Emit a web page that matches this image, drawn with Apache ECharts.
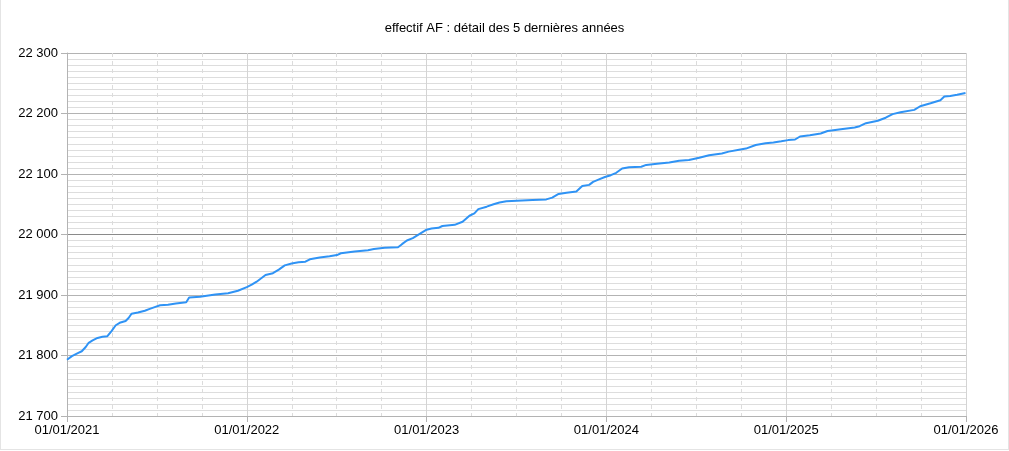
<!DOCTYPE html>
<html>
<head>
<meta charset="utf-8">
<script src="https://cdn.jsdelivr.net/npm/echarts@6/dist/echarts.min.js"></script>
<style>
  html, body { margin: 0; padding: 0; background: #fff; }
  #frame { position: absolute; left: 0; top: 0; width: 1007px; height: 449px; border-left: 1px solid #e4e4e4; border-right: 1px solid #e4e4e4; border-bottom: 1px solid #e4e4e4; box-sizing: content-box; }
  #chart { position: absolute; left: 0; top: 0; width: 1009px; height: 451px; }
</style>
</head>
<body>
<div id="frame"></div>
<div id="chart"></div>
<script>
// Chart texts
const titleText = "effectif AF : détail des 5 dernières années";
const yearTicks = [2021, 2022, 2023, 2024, 2025, 2026];

// Series: dates and staff numbers
const dates = [
  "2021-01-01","2021-01-11","2021-01-23","2021-01-31","2021-02-08","2021-02-14","2021-02-22","2021-03-04","2021-03-14","2021-03-24",
  "2021-04-01","2021-04-10","2021-04-18","2021-04-30","2021-05-06","2021-05-12","2021-05-25","2021-06-08","2021-06-18","2021-06-28",
  "2021-07-09","2021-07-25","2021-08-10","2021-08-31","2021-09-06","2021-09-28","2021-10-29","2021-11-24","2021-12-14","2022-01-01",
  "2022-01-11","2022-01-21","2022-01-31","2022-02-08","2022-02-23","2022-03-07","2022-03-19","2022-04-02","2022-04-16","2022-04-30",
  "2022-05-09","2022-05-29","2022-06-18","2022-07-03","2022-07-11","2022-08-08","2022-09-04","2022-09-16","2022-10-08","2022-11-04",
  "2022-11-12","2022-11-22","2022-12-04","2022-12-18","2023-01-01","2023-01-11","2023-01-25","2023-02-02","2023-02-27","2023-03-15",
  "2023-03-29","2023-04-08","2023-04-16","2023-05-03","2023-05-17","2023-05-29","2023-06-12","2023-08-04","2023-09-01","2023-09-13",
  "2023-09-26","2023-10-12","2023-11-01","2023-11-13","2023-11-27","2023-12-05","2023-12-17","2023-12-29","2024-01-10","2024-01-21",
  "2024-02-02","2024-02-16","2024-03-12","2024-03-22","2024-04-13","2024-05-08","2024-05-28","2024-06-17","2024-07-08","2024-07-28",
  "2024-08-23","2024-09-06","2024-09-27","2024-10-11","2024-10-31","2024-11-20","2024-12-06","2024-12-22","2025-01-05","2025-01-19",
  "2025-01-29","2025-02-18","2025-03-12","2025-03-26","2025-04-22","2025-05-20","2025-05-30","2025-06-12","2025-07-06","2025-07-22",
  "2025-08-05","2025-08-21","2025-09-18","2025-09-30","2025-10-21","2025-11-10","2025-11-18","2025-11-30","2025-12-14","2025-12-31"
];
const effectif = [
  21793,21799,21804,21807,21814,21821,21825,21829,21831,21832,
  21840,21850,21854,21857,21862,21869,21871,21874,21877,21880,
  21883,21884,21886,21888,21896,21897,21901,21903,21907,21913,
  21917,21922,21928,21933,21936,21942,21949,21952,21954,21955,
  21959,21962,21964,21966,21969,21972,21974,21976,21978,21979,
  21984,21990,21994,22001,22008,22010,22011,22014,22016,22021,
  22031,22035,22042,22046,22050,22053,22055,22057,22058,22061,
  22067,22069,22071,22080,22082,22087,22091,22095,22098,22102,
  22109,22111,22112,22115,22117,22119,22122,22123,22127,22131,
  22134,22137,22140,22142,22148,22151,22152,22154,22156,22157,
  22162,22164,22167,22171,22174,22177,22179,22184,22188,22193,
  22199,22202,22206,22212,22217,22222,22228,22229,22231,22234
];

// convert a date to a fractional year so each year has equal width on the axis
function fracYear(s) {
  const d = new Date(s + "T00:00:00Z");
  const y = d.getUTCFullYear();
  const start = Date.UTC(y, 0, 1), end = Date.UTC(y + 1, 0, 1);
  return y + (d.getTime() - start) / (end - start);
}
const seriesData = dates.map((d, i) => [fracYear(d), effectif[i]]);

function fmtThousands(v) {
  return String(v).replace(/\B(?=(\d{3})+(?!\d))/g, " ");
}

const chart = echarts.init(document.getElementById("chart"), null, { renderer: "canvas" });
chart.setOption({
  animation: false,
  backgroundColor: "transparent",
  textStyle: { fontFamily: "Liberation Sans, Arial, sans-serif" },
  title: {
    text: titleText,
    left: "center",
    top: 17,
    textStyle: { fontSize: 13, fontWeight: "normal", color: "#000", fontFamily: "Liberation Sans, Arial, sans-serif" }
  },
  grid: { left: 67, right: 43, top: 53, bottom: 35, containLabel: false },
  xAxis: {
    type: "value",
    min: yearTicks[0],
    max: yearTicks[yearTicks.length - 1],
    interval: 1,
    axisLine: { show: true, lineStyle: { color: "#b3b3b3", width: 1 } },
    axisTick: { show: true, length: 6, lineStyle: { color: "#b3b3b3" } },
    axisLabel: {
      margin: 8,
      fontSize: 13,
      color: "#000",
      fontFamily: "Liberation Sans, Arial, sans-serif",
      formatter: v => "01/01/" + v
    },
    splitLine: { show: true, lineStyle: { color: "#d4d4d4", width: 1 } },
    minorTick: { show: false, splitNumber: 4 },
    minorSplitLine: { show: true, lineStyle: { color: "#dcdcdc", width: 1, type: [4, 4] } }
  },
  yAxis: {
    type: "value",
    min: 21700,
    max: 22300,
    interval: 100,
    axisLine: { show: true, lineStyle: { color: "#b3b3b3", width: 1 } },
    axisTick: { show: true, length: 6, lineStyle: { color: "#b3b3b3" } },
    axisLabel: {
      margin: 9,
      fontSize: 13,
      color: "#000",
      fontFamily: "Liberation Sans, Arial, sans-serif",
      formatter: v => fmtThousands(v)
    },
    splitLine: { show: true, lineStyle: { color: ["#b3b3b3", "#b3b3b3", "#b3b3b3", "#8a8a8a", "#b3b3b3", "#b3b3b3", "#b3b3b3"], width: 1 } },
    minorTick: { show: false, splitNumber: 10 },
    minorSplitLine: { show: true, lineStyle: { color: "#dddddd", width: 1 } }
  },
  series: [{
    type: "line",
    data: seriesData,
    showSymbol: false,
    symbol: "none",
    lineStyle: { color: "#2f93f5", width: 2 },
    itemStyle: { color: "#2f93f5" }
  }]
});
</script>
</body>
</html>
